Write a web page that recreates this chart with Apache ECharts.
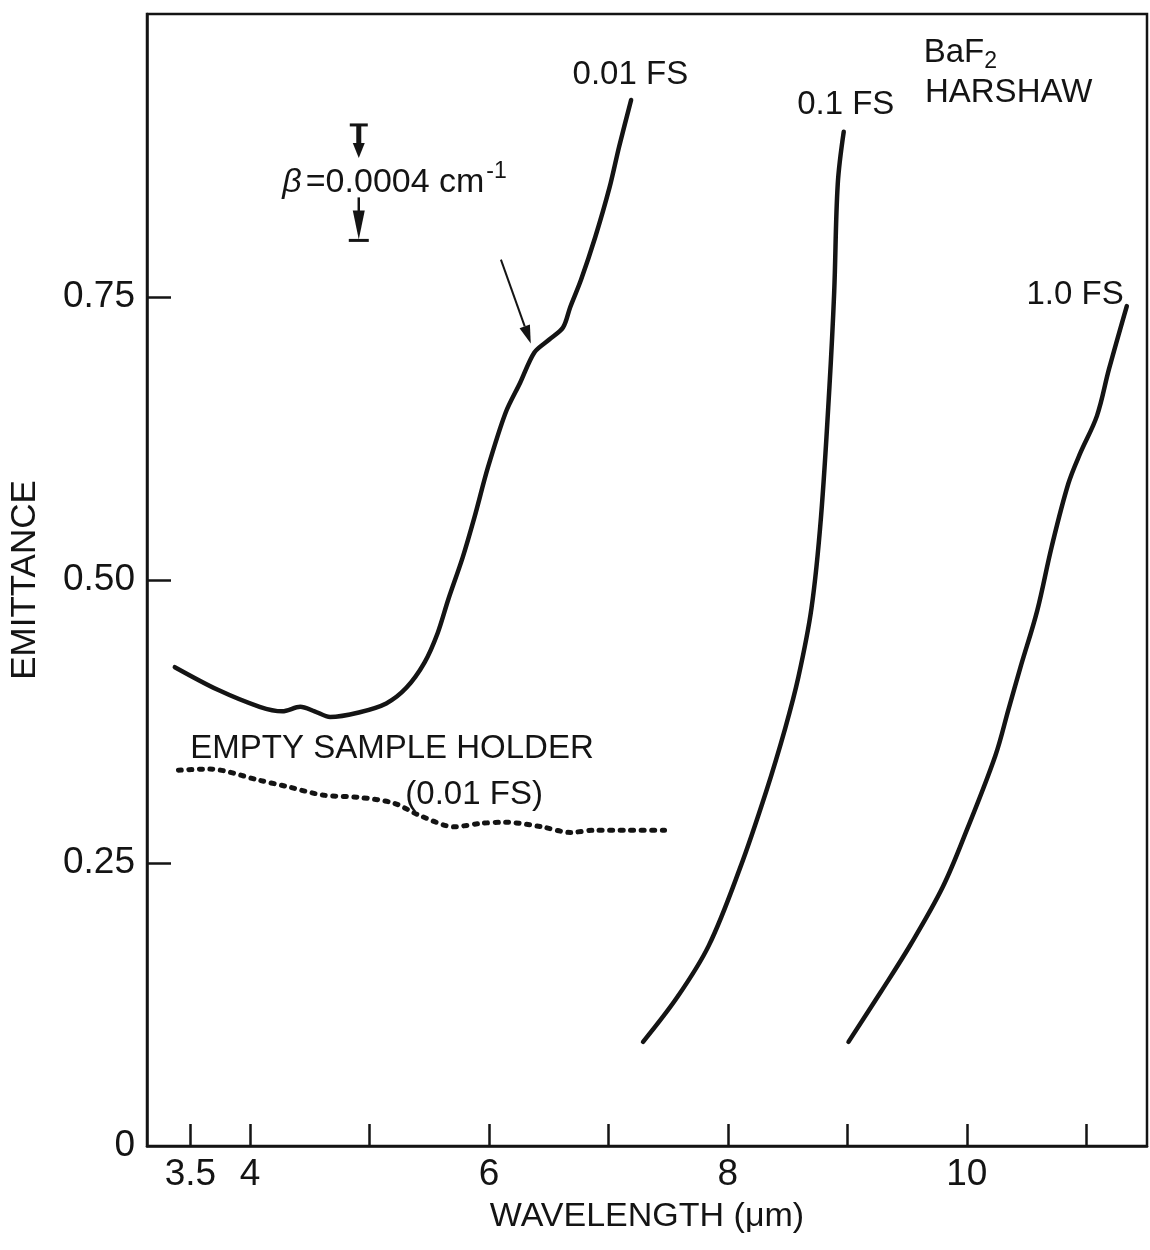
<!DOCTYPE html>
<html>
<head>
<meta charset="utf-8">
<script src="https://cdn.jsdelivr.net/npm/echarts@6/dist/echarts.min.js"></script>
<style>
  html, body { margin: 0; padding: 0; background: #ffffff; }
  #chart { width: 1150px; height: 1250px; }
</style>
</head>
<body>
<div id="chart"></div>
<script>
// Emittance of Harshaw BaF2 vs wavelength, recorded at three full-scale settings,
// plus the empty sample holder baseline.

// 0.01 full-scale trace
const WL_001 = [3.37, 3.73, 4.08, 4.27, 4.42, 4.54, 4.67, 4.91, 5.14, 5.31, 5.46, 5.57, 5.66, 5.78, 5.88, 5.99, 6.14, 6.26, 6.38, 6.50, 6.62, 6.68, 6.77, 6.89, 7.01, 7.09, 7.19];
const EM_001 = [0.423, 0.403, 0.388, 0.384, 0.388, 0.384, 0.379, 0.383, 0.391, 0.405, 0.427, 0.453, 0.483, 0.520, 0.556, 0.599, 0.648, 0.674, 0.701, 0.712, 0.723, 0.741, 0.765, 0.803, 0.847, 0.883, 0.924];

// 0.1 full-scale trace
const WL_01 = [7.29, 7.58, 7.84, 8.10, 8.32, 8.48, 8.59, 8.70, 8.78, 8.85, 8.89, 8.92, 8.97];
const EM_01 = [0.092, 0.132, 0.177, 0.245, 0.313, 0.369, 0.414, 0.475, 0.556, 0.670, 0.754, 0.850, 0.896];

// 1.0 full-scale trace
const WL_10 = [9.01, 9.28, 9.53, 9.80, 10.00, 10.24, 10.35, 10.45, 10.59, 10.71, 10.85, 10.95, 11.09, 11.19, 11.34];
const EM_10 = [0.092, 0.136, 0.178, 0.229, 0.279, 0.345, 0.386, 0.423, 0.473, 0.529, 0.585, 0.612, 0.645, 0.686, 0.742];

// Empty sample holder (0.01 FS)
const WL_EMPTY = [3.40, 3.66, 4.08, 4.33, 4.61, 4.91, 5.20, 5.42, 5.71, 5.93, 6.14, 6.44, 6.68, 6.89, 7.16, 7.47];
const EM_EMPTY = [0.332, 0.333, 0.323, 0.317, 0.310, 0.308, 0.303, 0.292, 0.282, 0.285, 0.286, 0.282, 0.277, 0.279, 0.279, 0.279];

// Axis ticks
const X_TICKS = [3.5, 4, 5, 6, 7, 8, 9, 10, 11];
const X_LABELS = [3.5, 4, 6, 8, 10];
const Y_TICKS = [0.25, 0.5, 0.75];
const Y_LABELS = [0, 0.25, 0.5, 0.75];

// Absorption-scale marker: beta = 0.0004 cm^-1 spans this emittance interval
const BETA_AT = 4.91;
const BETA_SPAN = [0.800, 0.902];

(function () {
  const INK = '#141414';
  const FONT = "'Liberation Sans', 'DejaVu Sans', sans-serif";

  const pairs = (xs, ys) => xs.map((x, i) => [x, ys[i]]);

  const curve = (name, xs, ys, extra) => Object.assign({
    name: name,
    type: 'line',
    data: pairs(xs, ys),
    showSymbol: false,
    smooth: 0.35,
    silent: true,
    animation: false,
    lineStyle: { color: INK, width: 4.5, cap: 'round', join: 'round' }
  }, extra || {});

  const option = {
    backgroundColor: '#ffffff',
    animation: false,
    grid: {
      left: 147, right: 3, top: 14, bottom: 104,
      show: true, borderColor: INK, borderWidth: 2.5, backgroundColor: 'transparent'
    },
    xAxis: {
      type: 'value',
      min: 3.137, max: 11.509,
      name: 'WAVELENGTH (\u03bcm)',
      nameLocation: 'middle',
      nameGap: 54,
      nameTextStyle: { fontFamily: FONT, fontSize: 34, color: INK },
      axisLine: { show: true, lineStyle: { color: INK, width: 2.5 } },
      axisTick: { show: true, inside: true, length: 22, customValues: X_TICKS, lineStyle: { color: INK, width: 2.5 } },
      axisLabel: { customValues: X_LABELS, fontFamily: FONT, fontSize: 37, color: INK, margin: 10, formatter: v => String(v) },
      splitLine: { show: false }
    },
    yAxis: {
      type: 'value',
      min: 0, max: 1.0,
      name: 'EMITTANCE',
      nameLocation: 'middle',
      nameRotate: 90,
      nameGap: 104,
      nameTextStyle: { fontFamily: FONT, fontSize: 35, color: INK },
      axisLine: { show: true, lineStyle: { color: INK, width: 2.5 } },
      axisTick: { show: true, inside: true, length: 24, customValues: Y_TICKS, lineStyle: { color: INK, width: 2.5 } },
      axisLabel: { customValues: Y_LABELS, fontFamily: FONT, fontSize: 37, color: INK, margin: 12,
                   formatter: v => (v === 0 ? '0' : v.toFixed(2)) },
      splitLine: { show: false }
    },
    series: [
      curve('0.01 FS', WL_001, EM_001, { smooth: 0.3 }),
      curve('0.1 FS', WL_01, EM_01),
      curve('1.0 FS', WL_10, EM_10),
      curve('Empty sample holder', WL_EMPTY, EM_EMPTY, {
        smooth: 0.3,
        lineStyle: { color: INK, width: 5, type: [3, 7.5], cap: 'round' }
      })
    ]
  };

  const chart = echarts.init(document.getElementById('chart'), null, { renderer: 'canvas' });
  chart.setOption(option);

  const px = p => chart.convertToPixel({ gridIndex: 0 }, p);

  const label = (text, at, size, rich) => {
    const p = px(at);
    return {
      type: 'text', x: p[0], y: p[1], silent: true,
      style: {
        text: text, fontFamily: FONT, fontSize: size, fill: INK,
        align: 'left', verticalAlign: 'middle', rich: rich
      }
    };
  };

  const graphics = [];

  // Curve and sample labels
  graphics.push(label('0.01 FS', [6.70, 0.946], 33));
  graphics.push(label('0.1 FS', [8.58, 0.920], 33));
  graphics.push(label('1.0 FS', [10.50, 0.752], 33));
  graphics.push(label('EMPTY SAMPLE HOLDER', [3.50, 0.351], 33));
  graphics.push(label('(0.01 FS)', [5.30, 0.310], 33));
  graphics.push(label('{m|BaF}{s|2}', [9.64, 0.966], 33, {
    m: { fontFamily: FONT, fontSize: 33, color: INK },
    s: { fontFamily: FONT, fontSize: 23, color: INK, padding: [18, 0, 0, 0] }
  }));
  graphics.push(label('HARSHAW', [9.65, 0.930], 33));

  // beta scale marker text
  graphics.push(label('{b|\u03b2}{m|=0.0004 cm}{s|-1}', [4.27, 0.851], 34, {
    b: { fontFamily: FONT, fontSize: 34, fontStyle: 'italic', color: INK, padding: [0, 4, 0, 0] },
    m: { fontFamily: FONT, fontSize: 34, color: INK },
    s: { fontFamily: FONT, fontSize: 23, color: INK, padding: [0, 0, 22, 2] }
  }));

  // beta scale marker: bars and arrows
  const pTop = px([BETA_AT, BETA_SPAN[1]]);
  const pBot = px([BETA_AT, BETA_SPAN[0]]);
  const cx = pTop[0];
  const barStyle = { stroke: INK, lineWidth: 3 };
  graphics.push({ type: 'line', silent: true, shape: { x1: cx - 9, y1: pTop[1], x2: cx + 9, y2: pTop[1] }, style: barStyle });
  graphics.push({ type: 'line', silent: true, shape: { x1: cx, y1: pTop[1], x2: cx, y2: pTop[1] + 22 }, style: { stroke: INK, lineWidth: 5 } });
  graphics.push({ type: 'polygon', silent: true, shape: { points: [[cx - 6, pTop[1] + 18], [cx + 6, pTop[1] + 18], [cx, pTop[1] + 33]] }, style: { fill: INK } });
  graphics.push({ type: 'line', silent: true, shape: { x1: cx, y1: pBot[1] - 43, x2: cx, y2: pBot[1] - 26 }, style: { stroke: INK, lineWidth: 2.5 } });
  graphics.push({ type: 'polygon', silent: true, shape: { points: [[cx - 6, pBot[1] - 30], [cx + 6, pBot[1] - 30], [cx, pBot[1] - 1]] }, style: { fill: INK } });
  graphics.push({ type: 'line', silent: true, shape: { x1: cx - 10, y1: pBot[1], x2: cx + 10, y2: pBot[1] }, style: barStyle });

  // Arrow pointing at the shoulder of the 0.01 FS trace
  const a0 = px([6.10, 0.783]);
  const a1 = px([6.35, 0.709]);
  const dx = a1[0] - a0[0], dy = a1[1] - a0[1];
  const len = Math.hypot(dx, dy);
  const ux = dx / len, uy = dy / len;
  const headLen = 18, headHalf = 5.5;
  const base = [a1[0] - ux * headLen, a1[1] - uy * headLen];
  graphics.push({ type: 'line', silent: true, shape: { x1: a0[0], y1: a0[1], x2: base[0], y2: base[1] }, style: { stroke: INK, lineWidth: 2 } });
  graphics.push({ type: 'polygon', silent: true, shape: { points: [
    [a1[0], a1[1]],
    [base[0] - uy * headHalf, base[1] + ux * headHalf],
    [base[0] + uy * headHalf, base[1] - ux * headHalf]
  ] }, style: { fill: INK } });

  chart.setOption({ graphic: graphics });
})();
</script>
</body>
</html>
